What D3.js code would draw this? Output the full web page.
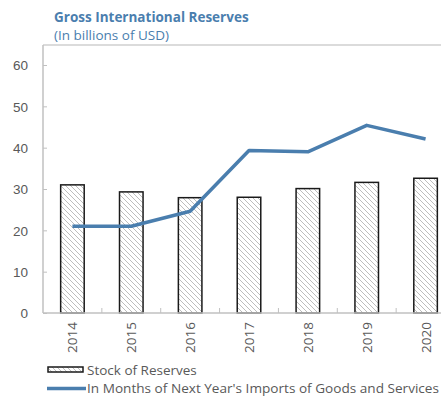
<!DOCTYPE html>
<html>
<head>
<meta charset="utf-8">
<script src="https://cdn.jsdelivr.net/npm/d3@7"></script>
<style>
  html, body { margin: 0; padding: 0; background: #fff; }
  svg { display: block; font-family: "Open Sans", "Noto Sans", sans-serif; }
</style>
</head>
<body>
<svg id="chart" width="441" height="396"></svg>
<script>
// Gross international reserves, 2014–2020
const years = ["2014", "2015", "2016", "2017", "2018", "2019", "2020"];
const stockOfReserves = [31.0, 29.3, 27.9, 28.0, 30.1, 31.6, 32.6];
const monthsOfImports = [21.0, 21.0, 24.6, 39.3, 39.0, 45.4, 42.1];
const yTicks = [0, 10, 20, 30, 40, 50, 60];

const svg = d3.select("#chart");
const blue = "#4a7eae";
const textGray = "#595959";
const axisGray = "#c0c0c0";

const plot = { left: 43, right: 455, top: 45, bottom: 313 };

const x = d3.scaleBand().domain(years).range([plot.left, plot.right]).paddingInner(0.6).paddingOuter(0.3);
const xStep = d3.scaleBand().domain(years).range([plot.left, plot.right]);
const y = d3.scaleLinear().domain([0, 60]).range([plot.bottom, plot.bottom - 248]);

// hatch fill for the reserve bars
const defs = svg.append("defs");
const pat = defs.append("pattern")
  .attr("id", "hatch")
  .attr("patternUnits", "userSpaceOnUse")
  .attr("width", 5).attr("height", 5);
pat.append("rect").attr("width", 5).attr("height", 5).attr("fill", "#fff");
pat.append("path")
  .attr("d", "M-1,-1 L6,6 M-1,4 L1,6 M4,-1 L6,1")
  .attr("stroke", "#bdbdbd").attr("stroke-width", 1);

// titles
svg.append("text").attr("x", 54).attr("y", 22)
  .attr("fill", blue).attr("font-weight", "bold").attr("font-size", 13.5)
  .text("Gross International Reserves");
svg.append("text").attr("x", 54).attr("y", 40)
  .attr("fill", blue).attr("font-size", 13.5)
  .text("(In billions of USD)");

// top border of the plot area
svg.append("line")
  .attr("x1", plot.left).attr("x2", 441)
  .attr("y1", plot.top).attr("y2", plot.top)
  .attr("stroke", "#cfcfcf").attr("stroke-width", 1.5);

// y axis (ticks point inward)
const yAxis = svg.append("g").attr("transform", `translate(${plot.left},0)`)
  .call(d3.axisLeft(y).tickValues(yTicks).tickSize(-4).tickPadding(15));
yAxis.select(".domain").remove();
yAxis.append("line").attr("y1", plot.top).attr("y2", plot.bottom)
  .attr("stroke", axisGray).attr("stroke-width", 1.5);
yAxis.selectAll(".tick line").attr("stroke", axisGray);
yAxis.selectAll(".tick text").attr("fill", textGray).attr("font-size", 13.5).attr("dy", "0.35em");

// bars
svg.append("g").selectAll("rect")
  .data(years.map((yr, i) => ({ yr, v: stockOfReserves[i] })))
  .join("rect")
  .attr("x", d => x(d.yr))
  .attr("y", d => y(d.v))
  .attr("width", x.bandwidth())
  .attr("height", d => y(0) - y(d.v))
  .attr("fill", "url(#hatch)")
  .attr("stroke", "#1a1a1a").attr("stroke-width", 1.5);

// x axis
const xAxis = svg.append("g").attr("transform", `translate(0,${plot.bottom})`);
xAxis.append("line").attr("x1", plot.left).attr("x2", plot.right)
  .attr("stroke", axisGray).attr("stroke-width", 1.5);
xAxis.selectAll("line.sep")
  .data(years.slice(1))
  .join("line").attr("class", "sep")
  .attr("x1", d => xStep(d)).attr("x2", d => xStep(d))
  .attr("y1", 0).attr("y2", -5)
  .attr("stroke", axisGray);
xAxis.selectAll("text")
  .data(years)
  .join("text")
  .attr("transform", d => `translate(${x(d) + x.bandwidth() / 2 + 5},9) rotate(-90)`)
  .attr("text-anchor", "end")
  .attr("fill", textGray).attr("font-size", 13.5)
  .text(d => d);

// import-cover line
const line = d3.line()
  .x((d, i) => x(years[i]) + x.bandwidth() / 2)
  .y(d => y(d));
svg.append("path")
  .datum(monthsOfImports)
  .attr("d", line)
  .attr("fill", "none")
  .attr("stroke", blue).attr("stroke-width", 3.5)
  .attr("stroke-linejoin", "round");

// legend
const lg = svg.append("g");
lg.append("rect").attr("x", 48).attr("y", 367).attr("width", 35).attr("height", 5)
  .attr("fill", "url(#hatch)").attr("stroke", "#1a1a1a").attr("stroke-width", 1.5);
lg.append("text").attr("x", 87).attr("y", 375)
  .attr("fill", textGray).attr("font-size", 13.5).text("Stock of Reserves");
lg.append("line").attr("x1", 47).attr("x2", 86).attr("y1", 388.5).attr("y2", 388.5)
  .attr("stroke", blue).attr("stroke-width", 3.5);
lg.append("text").attr("x", 87).attr("y", 393)
  .attr("fill", textGray).attr("font-size", 13.5)
  .attr("textLength", 352).attr("lengthAdjust", "spacingAndGlyphs")
  .text("In Months of Next Year's Imports of Goods and Services");
</script>
</body>
</html>
